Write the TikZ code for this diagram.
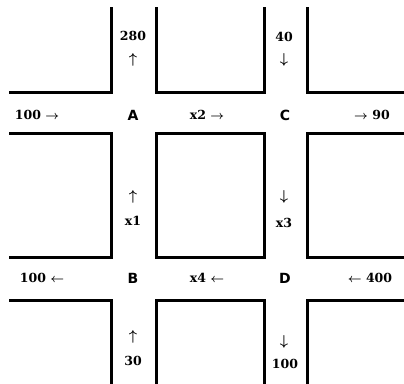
\documentclass[tikz,border=0pt]{standalone}
\usepackage{fontspec}
\newfontfamily\numfont{DejaVu Serif}
\newfontfamily\letfont{DejaVu Sans}
\begin{document}
\begin{tikzpicture}[x=1pt,y=-1pt,
  road/.style={line width=3pt,line join=miter},
  num/.style={inner sep=0pt,font=\numfont\bfseries\boldmath\fontsize{12.5}{14}\selectfont},
  lab/.style={inner sep=0pt,font=\letfont\bfseries\fontsize{14}{16}\selectfont},
  arr/.style={inner sep=0pt,font=\boldmath\fontsize{14}{16}\selectfont}]
\useasboundingbox (0,0) rectangle (404,383);
% road edges
\draw[road] (111,7) -- (111,92) -- (9,92);
\draw[road] (156,7) -- (156,92) -- (264,92) -- (264,7);
\draw[road] (307,7) -- (307,92) -- (406,92);
\draw[road] (9,133) -- (111,133) -- (111,257) -- (9,257);
\draw[road] (156,133) rectangle (264,257);
\draw[road] (406,133) -- (307,133) -- (307,257) -- (406,257);
\draw[road] (9,300) -- (111,300) -- (111,385);
\draw[road] (156,385) -- (156,300) -- (264,300) -- (264,385);
\draw[road] (406,300) -- (307,300) -- (307,385);
% labels
\node[num] (t280) at (133,36) {280};
\node[arr] (ta) at (133,60) {$\uparrow$};
\node[num] (t40) at (284,37) {40};
\node[arr] (tc) at (284,60) {$\downarrow$};
\node[num] (w100) at (37,115) {100 $\rightarrow$};
\node[lab] (A) at (133,115) {A};
\node[num] (x2) at (207,115) {x2 $\rightarrow$};
\node[lab] (C) at (285,115) {C};
\node[num] (e90) at (372,115) {$\rightarrow$ 90};
\node[arr] (ma) at (133,197) {$\uparrow$};
\node[num] (x1) at (133,221) {x1};
\node[arr] (mc) at (284,197) {$\downarrow$};
\node[num] (x3) at (284,223) {x3};
\node[num] (w100b) at (42,278) {100 $\leftarrow$};
\node[lab] (B) at (133,278) {B};
\node[num] (x4) at (207,278) {x4 $\leftarrow$};
\node[lab] (D) at (285,278) {D};
\node[num] (e400) at (370,278) {$\leftarrow$ 400};
\node[arr] (ba) at (133,337) {$\uparrow$};
\node[num] (b30) at (133,361) {30};
\node[arr] (bd) at (284,342) {$\downarrow$};
\node[num] (b100) at (285,364) {100};
\end{tikzpicture}
\end{document}
